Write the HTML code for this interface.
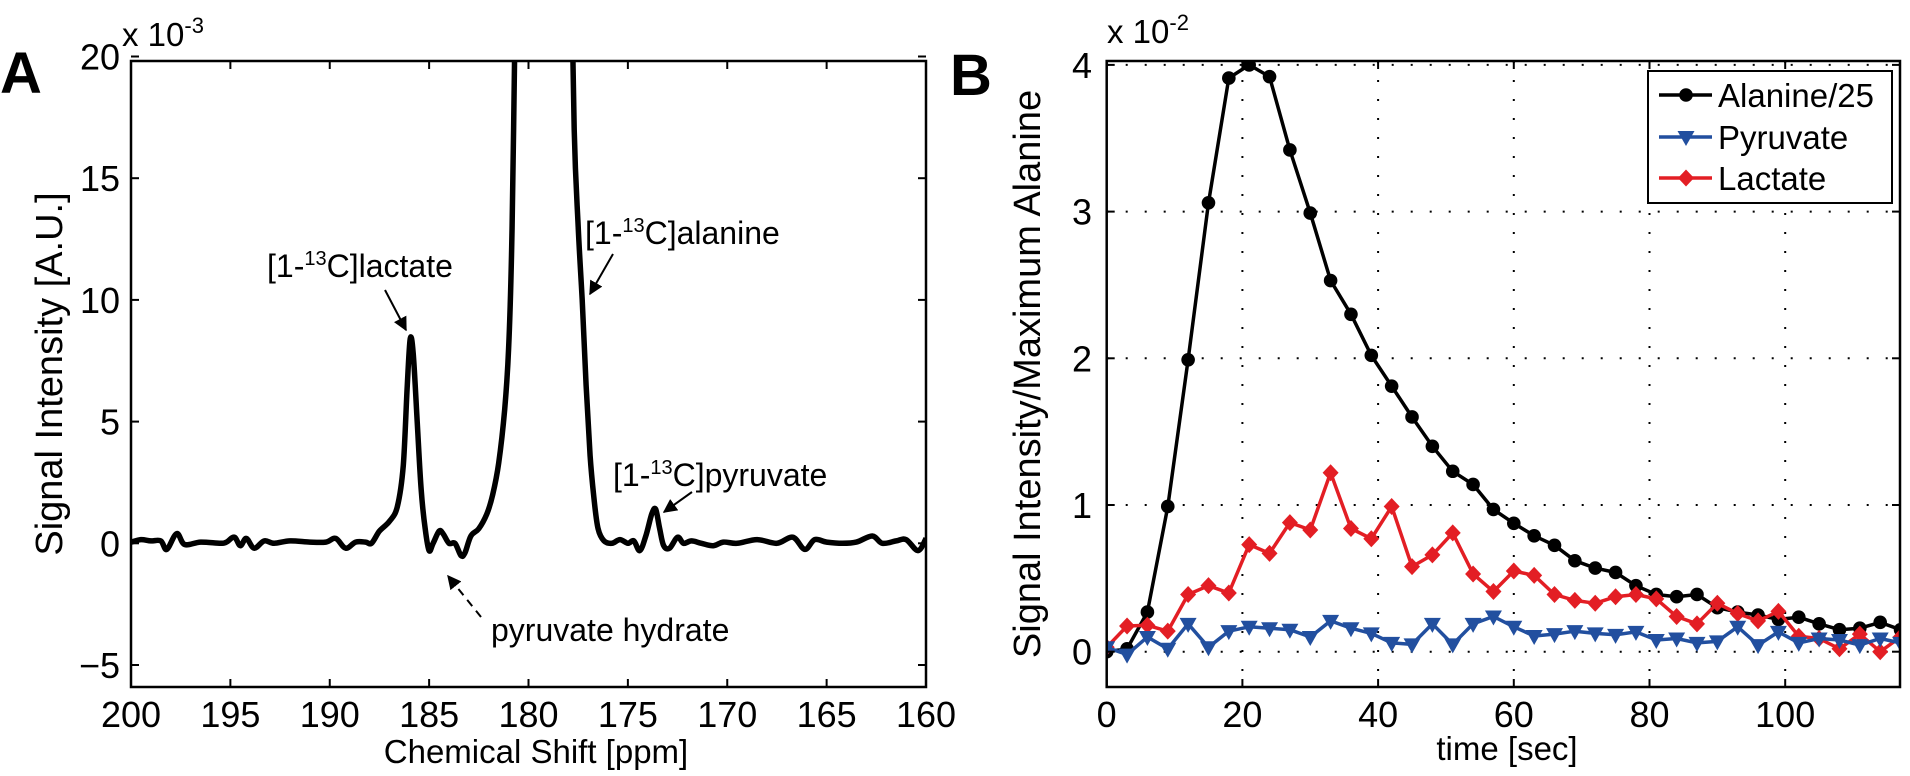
<!DOCTYPE html>
<html><head><meta charset="utf-8"><style>
html,body{margin:0;padding:0;background:#fff;}
svg{display:block;font-family:"Liberation Sans",Arial,sans-serif;}
</style></head><body>
<svg id="fig" width="1910" height="776" viewBox="0 0 1910 776" xmlns="http://www.w3.org/2000/svg">
<defs>
<clipPath id="clipA"><rect x="131" y="61" width="795" height="626"/></clipPath>
<clipPath id="clipB"><rect x="1106" y="61" width="794" height="626"/></clipPath>
<marker id="ah" viewBox="0 0 10 10" refX="9" refY="5" markerWidth="7" markerHeight="7" orient="auto"><path d="M0,0 L10,5 L0,10 z" fill="#000"/></marker>
</defs>
<g id="panelA"></g>
<g id="panelB"></g>
</svg>
<script>
// ---------- Panel A data (ppm, signal x1e-3) ----------
const specPpm = [200,199.5,199,198.5,198.2,197.7,197.3,196.5,195.5,195.2,194.8,194.5,194.2,193.8,193.3,192.8,192,191,190.2,189.7,189.2,188.7,188.2,187.9,187.5,187.0,186.6,186.3,186.1,185.95,185.8,185.6,185.4,185.2,185.0,184.8,184.5,184.3,184.0,183.7,183.4,183.2,182.9,182.5,182.1,181.8,181.5,181.2,181.0,180.85,180.75,180.6,180.3,178.2,177.9,177.7,177.5,177.3,177.1,176.9,176.7,176.5,176.2,175.8,175.4,175.0,174.7,174.4,174.1,173.8,173.6,173.4,173.2,172.9,172.5,172.2,171.8,171.3,170.7,170.2,169.5,168.5,167.5,166.7,166.1,165.6,165,164.2,163.5,162.7,162.2,161.5,161.0,160.4,160.0];
const specVal = [0.05,0.15,0.1,0.1,-0.25,0.4,-0.05,0.05,0.0,0.05,0.25,-0.1,0.2,-0.2,0.1,0.0,0.1,0.05,0.05,0.2,-0.2,0.05,0.05,0.0,0.5,0.9,1.5,3.2,6.5,8.4,7.8,5.0,2.2,0.6,-0.3,0.0,0.5,0.4,0.0,0.0,-0.5,-0.4,0.3,0.6,1.2,2.0,3.3,5.5,8.0,12,17,26,40,40,26,17,13,10,6.5,3.6,1.8,0.6,0.1,0.0,0.15,0.0,0.1,-0.3,0.3,1.2,1.4,0.6,-0.1,-0.2,0.25,0.0,0.1,0.0,-0.1,0.05,0.0,0.15,0.0,0.25,-0.25,0.15,0.05,0.0,0.05,0.3,0.0,0.1,0.15,-0.3,0.2];
const aXTicks = [200,195,190,185,180,175,170,165,160];
const aYTicks = [-5,0,5,10,15,20];

// ---------- Panel B data (time s, value x1e-2) ----------
const tAla = [0,3,6,9,12,15,18,21,24,27,30,33,36,39,42,45,48,51,54,57,60,63,66,69,72,75,78,81,84,87,90,93,96,99,102,105,108,111,114,117];
const alanine = [0,0.02,0.27,0.99,1.99,3.06,3.91,4.0,3.92,3.42,2.99,2.53,2.30,2.02,1.81,1.60,1.40,1.23,1.14,0.97,0.875,0.79,0.725,0.62,0.57,0.54,0.45,0.39,0.375,0.39,0.30,0.27,0.25,0.22,0.235,0.19,0.15,0.16,0.20,0.15];
const pyruvate = [0.03,-0.02,0.10,0.02,0.19,0.03,0.14,0.17,0.16,0.15,0.10,0.21,0.16,0.125,0.06,0.05,0.19,0.05,0.19,0.24,0.17,0.107,0.12,0.14,0.125,0.115,0.135,0.08,0.09,0.06,0.07,0.17,0.045,0.135,0.06,0.09,0.08,0.045,0.09,0.06];
const lactate = [0.03,0.175,0.18,0.14,0.39,0.45,0.40,0.73,0.67,0.88,0.83,1.22,0.84,0.77,0.99,0.58,0.66,0.81,0.53,0.41,0.55,0.52,0.39,0.35,0.33,0.375,0.39,0.36,0.24,0.19,0.33,0.26,0.21,0.275,0.105,0.09,0.02,0.12,0.0,0.10];
const bXTicks = [0,20,40,60,80,100];
const bYTicks = [0,1,2,3,4];
const legendLabels = ["Alanine/25","Pyruvate","Lactate"];

const NS = "http://www.w3.org/2000/svg";
function mk(parent, tag, attrs, text){
  const e = document.createElementNS(NS, tag);
  for (const k in attrs) e.setAttribute(k, attrs[k]);
  if (text !== undefined) e.textContent = text;
  parent.appendChild(e);
  return e;
}
const AX = {x0:131, x1:926, y0:61, y1:687};
const ax = p => AX.x0 + (200 - p) * (AX.x1 - AX.x0) / 40;
const ay = v => 543.3 - v * 24.34;
const BX = {x0:1106.7, x1:1900, y0:61, y1:687};
const bx = t => BX.x0 + t * 6.785;
const by = v => 651.7 - v * 146.7;

function smoothPath(pts){
  let d = "M" + pts[0][0].toFixed(1) + "," + pts[0][1].toFixed(1);
  for (let i = 0; i < pts.length - 1; i++){
    const p0 = pts[i-1] || pts[i], p1 = pts[i], p2 = pts[i+1], p3 = pts[i+2] || p2;
    const c1 = [p1[0] + (p2[0]-p0[0])/6, p1[1] + (p2[1]-p0[1])/6];
    const c2 = [p2[0] - (p3[0]-p1[0])/6, p2[1] - (p3[1]-p1[1])/6];
    d += "C" + c1[0].toFixed(1) + "," + c1[1].toFixed(1) + " " + c2[0].toFixed(1) + "," + c2[1].toFixed(1) + " " + p2[0].toFixed(1) + "," + p2[1].toFixed(1);
  }
  return d;
}

// ================= Panel A =================
const A = document.getElementById('panelA');
const spec = mk(A, 'path', {d: smoothPath(specPpm.map((p,i)=>[ax(p), ay(specVal[i])])), fill:'none', stroke:'#000', 'stroke-width':5.5, 'stroke-linejoin':'round', 'clip-path':'url(#clipA)'});


const boxA = mk(A, 'rect', {x:AX.x0, y:AX.y0, width:AX.x1-AX.x0, height:AX.y1-AX.y0, fill:'none', stroke:'#000', 'stroke-width':2.5});


aXTicks.forEach(t=>{
  const x = ax(t);
  mk(A,'line',{x1:x,y1:AX.y1,x2:x,y2:AX.y1-8,stroke:'#000','stroke-width':2});
  mk(A,'line',{x1:x,y1:AX.y0,x2:x,y2:AX.y0+8,stroke:'#000','stroke-width':2});
  const lb = mk(A,'text',{x:x,y:727,'font-size':36,'text-anchor':'middle'}, String(t));
  
  
});
aYTicks.forEach(t=>{
  const y = ay(t);
  mk(A,'line',{x1:AX.x0,y1:y,x2:AX.x0+8,y2:y,stroke:'#000','stroke-width':2});
  mk(A,'line',{x1:AX.x1,y1:y,x2:AX.x1-8,y2:y,stroke:'#000','stroke-width':2});
  const lb = mk(A,'text',{x:120,y:y+13,'font-size':36,'text-anchor':'end'}, t<0 ? '\u2212'+Math.abs(t) : String(t));
  
  
});
</script>
<script>
(function(){
const A = document.getElementById('panelA');
A.insertAdjacentHTML('beforeend', `
<text x="0" y="93" font-size="58" font-weight="bold">A</text>
<text x="122" y="46" font-size="33">x 10<tspan dy="-13" font-size="22">-3</tspan></text>
<text x="536" y="763" font-size="33" text-anchor="middle">Chemical Shift [ppm]</text>
<text transform="translate(62,374) rotate(-90)" font-size="38" text-anchor="middle">Signal Intensity [A.U.]</text>
<text x="267" y="277" font-size="32">[1-<tspan dy="-12" font-size="20">13</tspan><tspan dy="12">C]lactate</tspan></text>
<line x1="385" y1="290" x2="406" y2="330" stroke="#000" stroke-width="2" marker-end="url(#ah)"/>
<text x="585" y="244" font-size="32">[1-<tspan dy="-12" font-size="20">13</tspan><tspan dy="12">C]alanine</tspan></text>
<line x1="613" y1="254" x2="590" y2="294" stroke="#000" stroke-width="2" marker-end="url(#ah)"/>
<text x="613" y="486" font-size="32">[1-<tspan dy="-12" font-size="20">13</tspan><tspan dy="12">C]pyruvate</tspan></text>
<line x1="692" y1="492" x2="664" y2="512" stroke="#000" stroke-width="2" marker-end="url(#ah)"/>
<text x="491" y="641" font-size="32">pyruvate hydrate</text>
<line x1="481" y1="617" x2="448" y2="576" stroke="#000" stroke-width="2" stroke-dasharray="8,6" marker-end="url(#ah)"/>
`);
})();
</script>
<script>
(function(){
const B = document.getElementById('panelB');
bXTicks.slice(1).forEach(t=>{
  const g = mk(B,'line',{x1:bx(t),y1:BX.y0,x2:bx(t),y2:BX.y1,stroke:'#000','stroke-width':2,'stroke-dasharray':'2,17'});
  
  
});
bYTicks.forEach(t=>{
  const g = mk(B,'line',{x1:BX.x0,y1:by(t),x2:BX.x1,y2:by(t),stroke:'#000','stroke-width':2,'stroke-dasharray':'2,17'});
  
  
});
const clip = mk(B,'g',{'clip-path':'url(#clipB)'});
function drawMarker(parent, x, y, color, shape){
  if (shape==='circle') return mk(parent,'circle',{cx:x,cy:y,r:6.8,fill:color});
  if (shape==='tri') return mk(parent,'path',{d:`M${x-8.5},${y-6} L${x+8.5},${y-6} L${x},${y+9} Z`,fill:color});
  return mk(parent,'path',{d:`M${x},${y-8.5} L${x+8},${y} L${x},${y+8.5} L${x-8},${y} Z`,fill:color});
}
function series(vals, color, shape, name){
  const pts = tAla.map((t,i)=>[bx(t), by(vals[i])]);
  const ln = mk(clip,'polyline',{points:pts.map(p=>p[0].toFixed(1)+','+p[1].toFixed(1)).join(' '),fill:'none',stroke:color,'stroke-width':3.5,'stroke-linejoin':'round'});
  
  
  pts.forEach(p=>{
    const m = drawMarker(clip, p[0], p[1], color, shape);
    
    
  });
}
series(alanine,'#000','circle','alanine');
series(lactate,'#e31e24','diamond','lactate');
series(pyruvate,'#224f9f','tri','pyruvate');
const box = mk(B,'rect',{x:BX.x0,y:BX.y0,width:BX.x1-BX.x0,height:BX.y1-BX.y0,fill:'none',stroke:'#000','stroke-width':2.5});


bXTicks.forEach(t=>{
  const x = bx(t);
  mk(B,'line',{x1:x,y1:BX.y1,x2:x,y2:BX.y1-8,stroke:'#000','stroke-width':2});
  mk(B,'line',{x1:x,y1:BX.y0,x2:x,y2:BX.y0+8,stroke:'#000','stroke-width':2});
  const lb = mk(B,'text',{x:x,y:727,'font-size':36,'text-anchor':'middle'}, String(t));
  
  
});
bYTicks.forEach(t=>{
  const y = by(t);
  mk(B,'line',{x1:BX.x0,y1:y,x2:BX.x0+8,y2:y,stroke:'#000','stroke-width':2});
  mk(B,'line',{x1:BX.x1,y1:y,x2:BX.x1-8,y2:y,stroke:'#000','stroke-width':2});
  const lb = mk(B,'text',{x:1092,y:y+13,'font-size':36,'text-anchor':'end'}, String(t));
  
  
});
B.insertAdjacentHTML('beforeend', `
<text x="950" y="95" font-size="58" font-weight="bold">B</text>
<text x="1107" y="43" font-size="33">x 10<tspan dy="-13" font-size="22">-2</tspan></text>
<text x="1507" y="760" font-size="33" text-anchor="middle">time [sec]</text>
<text transform="translate(1040,374) rotate(-90)" font-size="38" text-anchor="middle">Signal Intensity/Maximum Alanine</text>
`);
const lg = mk(B,'g',{});


mk(lg,'rect',{x:1648,y:71,width:244,height:132,fill:'#fff',stroke:'#000','stroke-width':2});
const colors = ['#000','#224f9f','#e31e24'];
const shapes = ['circle','tri','diamond'];
const rows = [95,137,178];
legendLabels.forEach((lab,i)=>{
  const ent = mk(lg,'g',{});
  
  
  mk(ent,'line',{x1:1659,y1:rows[i],x2:1712,y2:rows[i],stroke:colors[i],'stroke-width':3.5});
  drawMarker(ent,1686,rows[i],colors[i],shapes[i]);
  mk(ent,'text',{x:1718,y:rows[i]+12,'font-size':33}, lab);
});
})();
</script>
</body></html>
